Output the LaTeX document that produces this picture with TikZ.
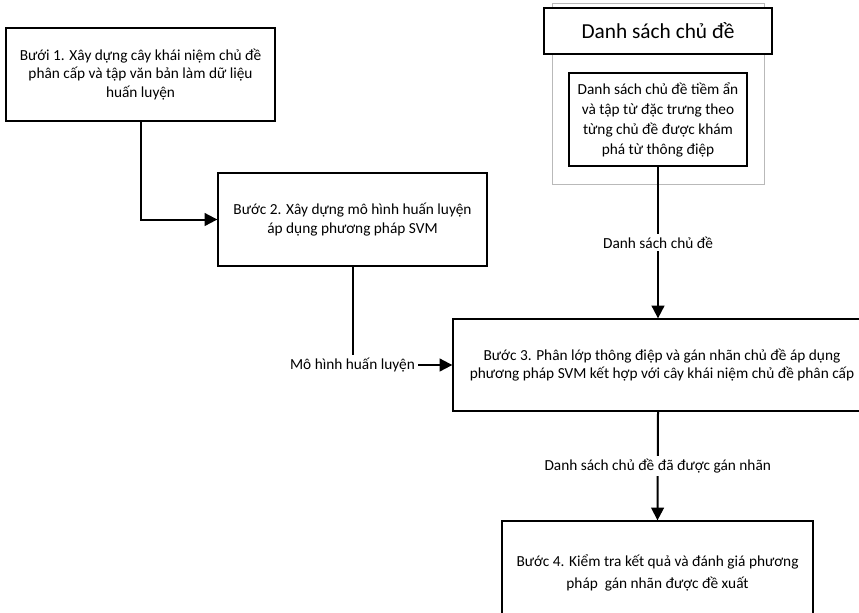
\documentclass[tikz,border=0pt]{standalone}
\usepackage{fontspec}
\setmainfont{Carlito}
\usetikzlibrary{arrows.meta,positioning}
\definecolor{frameGray}{RGB}{185,185,185}

\begin{document}
\begin{tikzpicture}[x=0.75pt, y=-0.75pt,
    stepbox/.style={draw, line width=1pt, fill=white, align=center, inner sep=0pt,
      font=\fontsize{11.5}{13.8}\selectfont},
    flow/.style={line width=1.5pt, -{Triangle[length=9.5pt,width=9.5pt]}},
    flowlabel/.style={fill=white, inner sep=2pt, font=\fontsize{11.5}{13.8}\selectfont}]
  \useasboundingbox (0,0) rectangle (859,612);
  \clip (0,0) rectangle (859,612);
  % steps
  \node[stepbox, minimum width=201.75pt, minimum height=69.75pt] (b1) at (140.5,74.5)
    {Bưới 1. Xây dựng cây khái niệm chủ đề\\phân cấp và tập văn bản làm dữ liệu\\huấn luyện};
  \node[stepbox, minimum width=201.75pt, minimum height=69.75pt] (b2) at (352.5,219.5)
    {Bước 2. Xây dựng mô hình huấn luyện\\áp dụng phương pháp SVM};
  % step 3 runs off the right edge of the page
  \node[stepbox, minimum width=313.5pt, minimum height=69pt] (b3) at (662,365)
    {Bước 3. Phân lớp thông điệp và gán nhãn chủ đề áp dụng\\phương pháp SVM kết hợp với cây khái niệm chủ đề phân cấp};
  \node[stepbox, minimum width=233.25pt, minimum height=78pt,
    font=\fontsize{11.5}{16}\selectfont] (b4) at (657.5,573)
    {Bước 4. Kiểm tra kết quả và đánh giá phương\\pháp\ \ gán nhãn được đề xuất};
  % topic list group
  \node[draw=frameGray, line width=0.75pt, minimum width=159pt, minimum height=135.75pt,
    inner sep=0pt] (topics) at (658,93.5) {};
  \node[stepbox, minimum width=171pt, minimum height=34.5pt,
    font=\fontsize{16}{19}\selectfont] (title) at (658,31) {Danh sách chủ đề};
  \node[stepbox, minimum width=133.5pt, minimum height=69.75pt,
    font=\fontsize{11.5}{15}\selectfont] (inner) at (658,119.5)
    {Danh sách chủ đề tiềm ẩn\\và tập từ đặc trưng theo\\từng chủ đề được khám\\phá từ thông điệp};
  % connectors
  \draw[flow] (b1.south) |- (b2.west);
  \draw[flow] (b2.south) |- node[flowlabel, pos=0.5] {Mô hình huấn luyện} (b3.west);
  \draw[flow] (inner.south) -- node[flowlabel] {Danh sách chủ đề} (inner.south |- b3.north);
  \draw[flow] (inner.south |- b3.south) -- node[flowlabel] {Danh sách chủ đề đã được gán nhãn} (b4.north);
\end{tikzpicture}
\end{document}
